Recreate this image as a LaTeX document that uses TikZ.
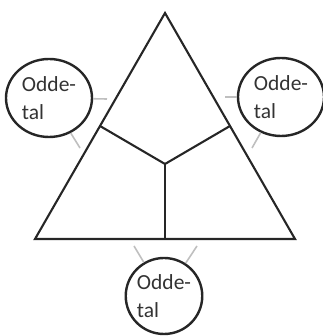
\documentclass[tikz,border=0pt]{standalone}
\usepackage{fontspec}
\setmainfont{Carlito}
\usetikzlibrary{shapes.geometric, calc}
\tikzset{
side/.style={line width=2.1pt, draw=black!85},
zone/.style={draw=black!85, ellipse, line width=2.4pt, minimum width=86pt, minimum height=78pt,
  inner sep=0pt, align=left, text=black!80, font=\fontsize{21.5}{28}\selectfont},
stub/.style={line width=1.6pt, draw=black!25},
}

\begin{document}
\begin{tikzpicture}[x=1pt, y=1pt]
            \useasboundingbox (0,0) rectangle (322,336);
            \coordinate (A) at (165,323);
            \coordinate (B) at (35,97);
            \coordinate (C) at (295,97);
            \coordinate (AB) at ($(A)!0.5!(B)$);
            \coordinate (AC) at ($(A)!0.5!(C)$);
            \coordinate (M) at (165,172);
            \coordinate (BC) at (M |- B);

            % Triangle
            \draw[side] (A) -- (B) -- (C) -- cycle;
            \draw[side] (AB) -- (M) -- (AC);
            \draw[side] (M) -- (BC);

            % Circles
            \node[zone] (L) at (49,238) {Odde-\\tal};
            \node[zone] (R) at (281,239) {Odde-\\tal};
            \node[zone, minimum width=76pt, minimum height=76pt] (D) at (164,40) {Odde-\\tal};

            % Stubs
            \coordinate (l1) at (107,237);
            \coordinate (l2) at (80,188);
            \coordinate (r1) at (225,239);
            \coordinate (r2) at (252,188);
            \coordinate (d1) at (134,90);
            \coordinate (d2) at (197,90);
            \draw[stub] (L) -- (l1);
            \draw[stub] (L) -- (l2);
            \draw[stub] (R) -- (r1);
            \draw[stub] (R) -- (r2);
            \draw[stub] (D) -- (d1);
            \draw[stub] (D) -- (d2);
\end{tikzpicture}
\end{document}
